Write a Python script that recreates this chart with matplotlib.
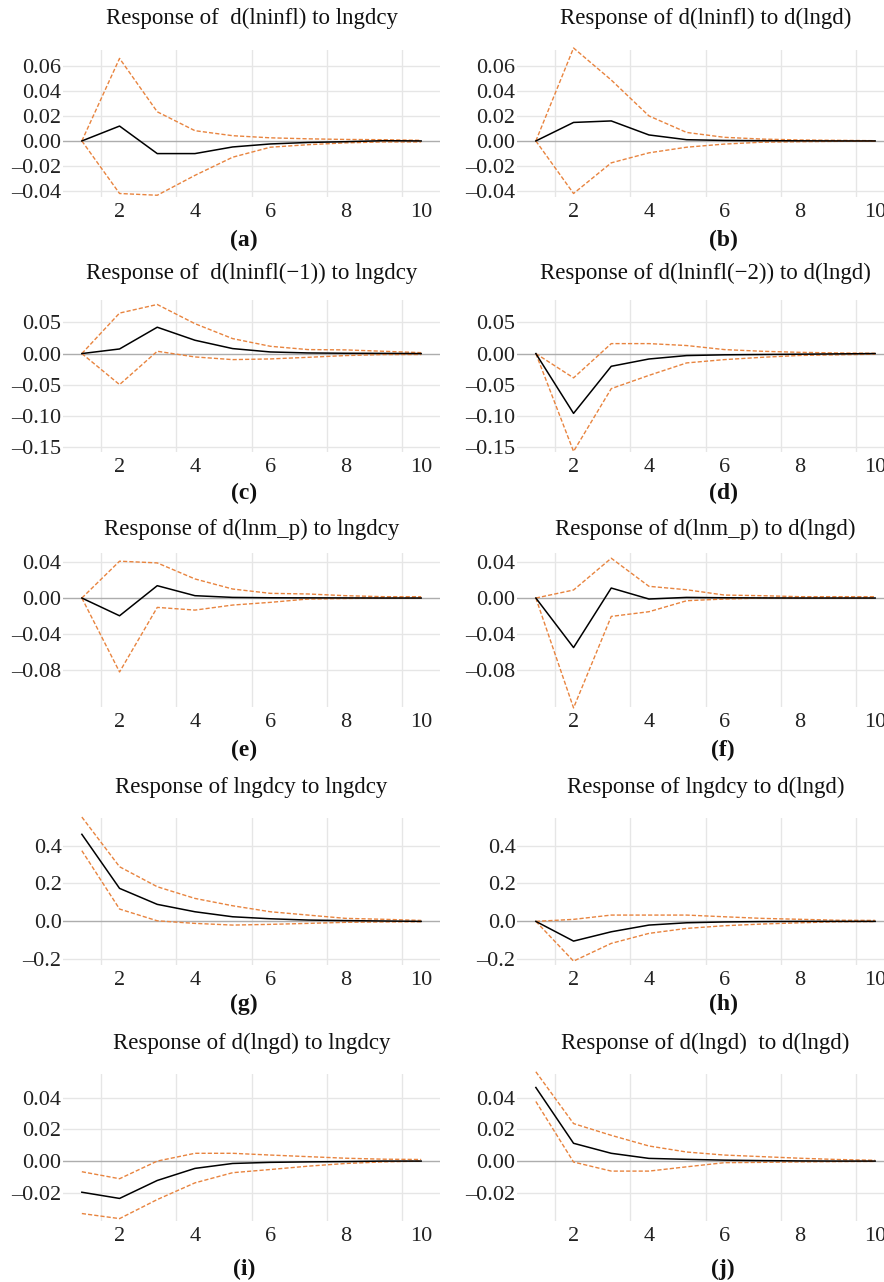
import numpy as np
import matplotlib
matplotlib.use('Agg')
import matplotlib.pyplot as plt
from matplotlib.ticker import FuncFormatter

plt.rcParams['font.family'] = ['Liberation Serif', 'DejaVu Serif']

# horizon steps
steps = [1, 2, 3, 4, 5, 6, 7, 8, 9, 10]

# (a) d(lninfl) to lngdcy
a_irf = [0, 0.0119, -0.0101, -0.0101, -0.0048, -0.0024, -0.0012, -0.0006, 0.0002, 0.0]
a_up = [0, 0.066, 0.0233, 0.0082, 0.0042, 0.0025, 0.0017, 0.0012, 0.0010, 0.0005]
a_lo = [0, -0.042, -0.0434, -0.0275, -0.013, -0.005, -0.003, -0.0015, -0.0008, -0.0008]
# (b) d(lninfl) to d(lngd)
b_irf = [0, 0.0148, 0.016, 0.0048, 0.001, 0.0004, 0.0002, 0.0001, 0.0, 0.0]
b_up = [0, 0.0743, 0.0487, 0.020, 0.0068, 0.0029, 0.0015, 0.0008, 0.0005, 0.0002]
b_lo = [0, -0.042, -0.0175, -0.0095, -0.005, -0.0025, -0.001, -0.0006, -0.0003, -0.0002]
# (c) d(lninfl(-1)) to lngdcy
c_irf = [0, 0.0074, 0.0423, 0.0214, 0.008, 0.0026, 0.001, 0.0005, 0.0003, 0.0]
c_up = [0, 0.065, 0.0788, 0.048, 0.024, 0.0117, 0.0064, 0.0059, 0.0037, 0.0015]
c_lo = [0, -0.0498, 0.0037, -0.0054, -0.0097, -0.0086, -0.006, -0.0032, -0.0016, -0.0015]
# (d) d(lninfl(-2)) to d(lngd)
d_irf = [0, -0.096, -0.0204, -0.0087, -0.0032, -0.002, -0.0015, -0.001, -0.0005, 0.0]
d_up = [0, -0.039, 0.016, 0.016, 0.0129, 0.0064, 0.0037, 0.002, 0.001, 0.0005]
d_lo = [0, -0.157, -0.0563, -0.035, -0.015, -0.0097, -0.006, -0.003, -0.002, -0.001]
# (e) d(lnm_p) to lngdcy
e_irf = [0, -0.0197, 0.0137, 0.0026, 0.0007, 0.0003, 0.0002, 0.0001, 0.0, 0.0]
e_up = [0, 0.0409, 0.039, 0.0212, 0.010, 0.0052, 0.0045, 0.0026, 0.0015, 0.0015]
e_lo = [0, -0.0821, -0.0104, -0.0134, -0.0078, -0.0048, -0.0011, -0.0005, 0.0, 0.0]
# (f) d(lnm_p) to d(lngd)
f_irf = [0, -0.055, 0.0111, -0.0011, 0.0007, 0.0003, 0.0001, 0.0, 0.0, 0.0]
f_up = [0, 0.0089, 0.0442, 0.013, 0.0092, 0.0033, 0.0026, 0.0015, 0.0015, 0.0015]
f_lo = [0, -0.122, -0.0204, -0.0152, -0.003, -0.0011, 0.0, 0.0, 0.0, 0.0]
# (g) lngdcy to lngdcy
g_irf = [0.459, 0.174, 0.0897, 0.0507, 0.0243, 0.0137, 0.0069, 0.004, 0.002, 0.0]
g_up = [0.55, 0.288, 0.1826, 0.121, 0.0823, 0.0507, 0.0332, 0.0158, 0.011, 0.005]
g_lo = [0.3726, 0.065, 0.003, -0.0106, -0.0195, -0.0158, -0.0106, -0.005, -0.003, -0.002]
# (h) lngdcy to d(lngd)
h_irf = [0, -0.104, -0.0549, -0.0195, -0.0074, -0.003, -0.001, 0.0, 0.0, 0.0]
h_up = [0, 0.0106, 0.0332, 0.0332, 0.0332, 0.0243, 0.0158, 0.011, 0.006, 0.005]
h_lo = [0, -0.2095, -0.116, -0.0633, -0.037, -0.023, -0.014, -0.0074, -0.002, -0.001]
# (i) d(lngd) to lngdcy
i_irf = [-0.0196, -0.0235, -0.0122, -0.0046, -0.0015, -0.0008, -0.0005, -0.0003, 0.0, 0.0]
i_up = [-0.0067, -0.0111, 0.0, 0.0049, 0.0049, 0.0038, 0.0028, 0.0018, 0.0012, 0.001]
i_lo = [-0.033, -0.0362, -0.0242, -0.0137, -0.0073, -0.0053, -0.0032, -0.0015, -0.0005, 0.0]
# (j) d(lngd) to d(lngd)
j_irf = [0.0463, 0.0112, 0.0049, 0.0017, 0.0011, 0.0006, 0.0003, 0.0001, 0.0, 0.0]
j_up = [0.0562, 0.0236, 0.0162, 0.0095, 0.0057, 0.0038, 0.0028, 0.0018, 0.001, 0.0005]
j_lo = [0.0375, -0.0006, -0.0063, -0.0063, -0.0036, -0.001, -0.0008, -0.0005, -0.0003, -0.0002]

titles = ['Response of  d(lninfl) to lngdcy', 'Response of d(lninfl) to d(lngd)',
          'Response of  d(lninfl(\u22121)) to lngdcy', 'Response of d(lninfl(\u22122)) to d(lngd)',
          'Response of d(lnm_p) to lngdcy', 'Response of d(lnm_p) to d(lngd)',
          'Response of lngdcy to lngdcy', 'Response of lngdcy to d(lngd)',
          'Response of d(lngd) to lngdcy', 'Response of d(lngd)  to d(lngd)']
letters = ['(a)', '(b)', '(c)', '(d)', '(e)', '(f)', '(g)', '(h)', '(i)', '(j)']
panels = [(a_irf, a_up, a_lo), (b_irf, b_up, b_lo), (c_irf, c_up, c_lo), (d_irf, d_up, d_lo),
          (e_irf, e_up, e_lo), (f_irf, f_up, f_lo), (g_irf, g_up, g_lo), (h_irf, h_up, h_lo),
          (i_irf, i_up, i_lo), (j_irf, j_up, j_lo)]

row_yticks = [[-0.04, -0.02, 0.0, 0.02, 0.04, 0.06],
              [-0.15, -0.10, -0.05, 0.0, 0.05],
              [-0.08, -0.04, 0.0, 0.04],
              [-0.2, 0.0, 0.2, 0.4],
              [-0.02, 0.0, 0.02, 0.04]]
row_ylim = [(-0.0448, 0.0727), (-0.158, 0.086), (-0.121, 0.050), (-0.23, 0.545), (-0.0377, 0.0548)]
row_dec = [2, 2, 2, 1, 2]

# layout in pixels
W, H = 884, 1282
row_top = [50, 300, 553, 818, 1074]
row_bot = [197, 452, 707, 965, 1221]
col_left = [63, 517]
ax_w = 377
title_y = [18, 273, 529, 787, 1043]
letter_y = [240, 493, 750, 1004, 1269]
letter_x = [244, 723]

orange = '#e8843f'
grid_c = '#e6e6e6'


def make_fmt(dec):
    def fmt(v, pos):
        s = f'{v:.{dec}f}'
        if s.startswith('-'):
            s = '\u2013' + s[1:]
        return s
    return FuncFormatter(fmt)


fig = plt.figure(figsize=(W / 100, H / 100), dpi=100)

for k, (irf, up, lo) in enumerate(panels):
    r, c = k // 2, k % 2
    ax = fig.add_axes([col_left[c] / W, 1 - row_bot[r] / H, ax_w / W,
                       (row_bot[r] - row_top[r]) / H])
    ax.set_xlim(0.5, 10.5)
    ax.set_ylim(*row_ylim[r])
    for s in ax.spines.values():
        s.set_visible(False)
    for yv in row_yticks[r]:
        if yv != 0:
            ax.axhline(yv, color=grid_c, lw=1.0, zorder=0)
    for xv in [1.5, 3.5, 5.5, 7.5, 9.5]:
        ax.axvline(xv, color=grid_c, lw=1.0, zorder=0)
    ax.axhline(0, color='#adadad', lw=1.0, zorder=1)
    ax.plot(steps, up, color=orange, lw=1.0, ls=(0, (3, 1.5)), clip_on=False, zorder=2)
    ax.plot(steps, lo, color=orange, lw=1.0, ls=(0, (3, 1.5)), clip_on=False, zorder=2)
    ax.plot(steps, irf, color='black', lw=1.1, clip_on=False, zorder=3)
    ax.set_xticks([2, 4, 6, 8, 10])
    ax.set_yticks(row_yticks[r])
    ax.yaxis.set_major_formatter(make_fmt(row_dec[r]))
    ax.tick_params(length=0, labelsize=16, colors='#222222', pad=1)
    ax.tick_params(axis='x', pad=4)
    ax.set_facecolor('none')
    fig.text((col_left[c] + ax_w / 2) / W, 1 - title_y[r] / H, titles[k],
             ha='center', va='center', fontsize=16.5, color='#111111')
    fig.text(letter_x[c] / W, 1 - letter_y[r] / H, letters[k],
             ha='center', va='center', fontsize=17, fontweight='bold', color='#111111')

fig.savefig('out.png', dpi=100)
